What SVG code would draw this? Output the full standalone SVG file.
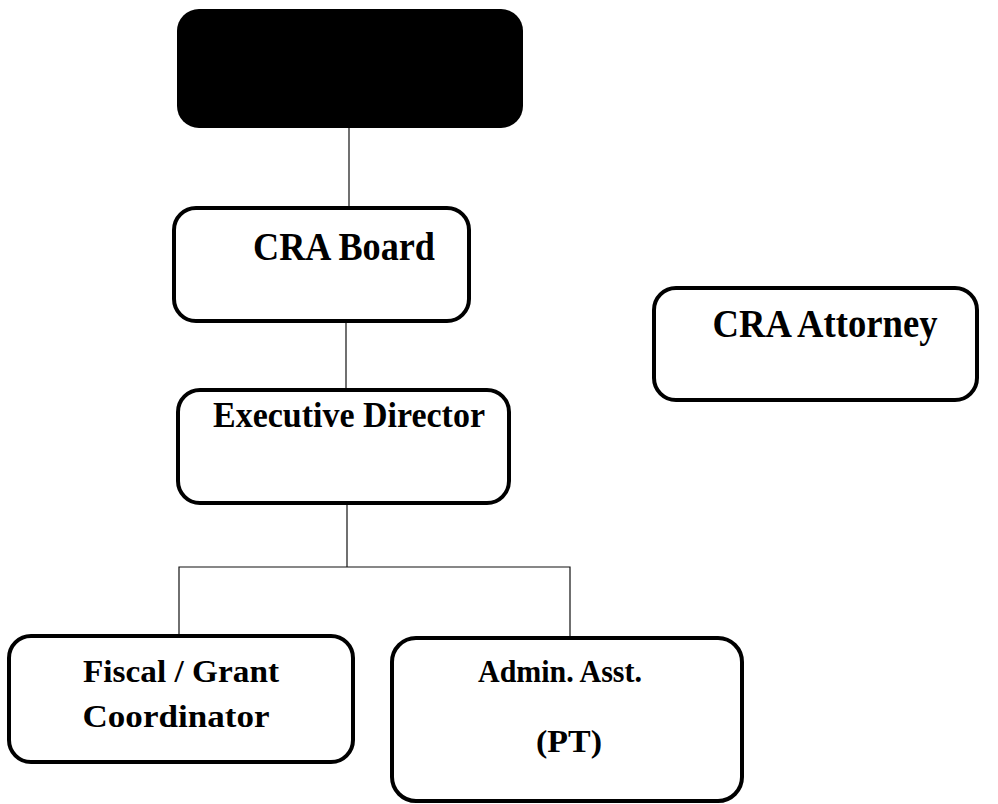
<svg xmlns="http://www.w3.org/2000/svg" width="998" height="804" viewBox="0 0 998 804">
<style>
.box{fill:#fff;stroke:#000;stroke-width:4}
.t{font-family:"Liberation Serif","DejaVu Serif",serif;font-weight:bold;fill:#000}
.c{stroke:#111;stroke-width:1.2;fill:none}
</style>
<rect width="998" height="804" fill="#fff"/>
<g id="connectors">
<line class="c" x1="349" y1="128" x2="349" y2="208"/>
<line class="c" x1="346" y1="321" x2="346" y2="390"/>
<line class="c" x1="347" y1="503" x2="347" y2="567"/>
<polyline class="c" points="179,635 179,567 570,567 570,637"/>
</g>
<g id="top">
<rect x="177" y="9" width="346" height="119" rx="22" fill="#000"/>
</g>
<g id="cra-board">
<rect class="box" x="174" y="208" width="295" height="113" rx="22"/>
<text class="t" x="344" y="260" font-size="41" text-anchor="middle" textLength="182" lengthAdjust="spacingAndGlyphs">CRA Board</text>
</g>
<g id="cra-attorney">
<rect class="box" x="654" y="288" width="323" height="112" rx="22"/>
<text class="t" x="825" y="337" font-size="41" text-anchor="middle" textLength="225" lengthAdjust="spacingAndGlyphs">CRA Attorney</text>
</g>
<g id="executive-director">
<rect class="box" x="178" y="390" width="331" height="113" rx="22"/>
<text class="t" x="349" y="427" font-size="35" text-anchor="middle" textLength="272" lengthAdjust="spacingAndGlyphs">Executive Director</text>
</g>
<g id="fiscal">
<rect class="box" x="9" y="636" width="344" height="126" rx="22"/>
<text class="t" x="181" y="682" font-size="31" text-anchor="middle" textLength="196" lengthAdjust="spacingAndGlyphs">Fiscal / Grant</text>
<text class="t" x="176" y="727" font-size="31" text-anchor="middle" textLength="187" lengthAdjust="spacingAndGlyphs">Coordinator</text>
</g>
<g id="admin">
<rect class="box" x="392" y="638" width="350" height="163" rx="24"/>
<text class="t" x="560" y="682" font-size="31" text-anchor="middle" textLength="164" lengthAdjust="spacingAndGlyphs">Admin. Asst.</text>
<text class="t" x="569" y="752" font-size="31" text-anchor="middle" textLength="66" lengthAdjust="spacingAndGlyphs">(PT)</text>
</g>
</svg>
